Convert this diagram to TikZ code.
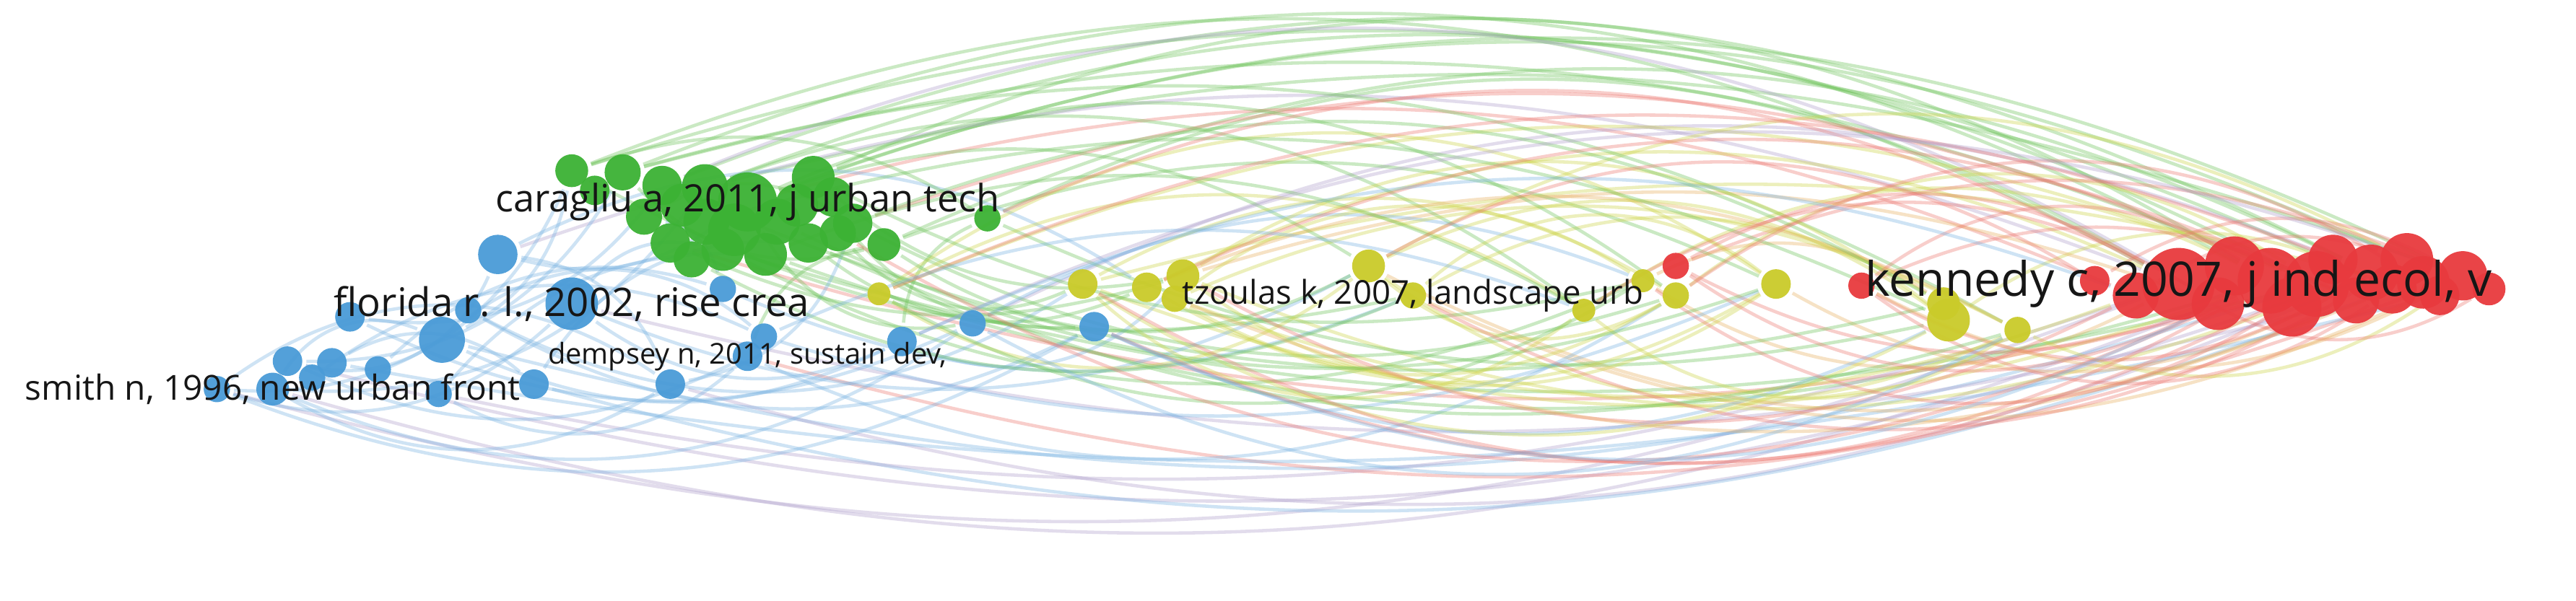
\documentclass[tikz,border=0pt]{standalone}
\usepackage{fontspec}
\setmainfont{Open Sans}
\pgfdeclarelayer{bgl}
\pgfdeclarelayer{edges}
\pgfsetlayers{bgl,edges,main}
\definecolor{nblue}{RGB}{74,155,215}
\definecolor{ngreen}{RGB}{60,178,52}
\definecolor{nyellow}{RGB}{202,203,42}
\definecolor{nred}{RGB}{232,58,62}
\definecolor{eblue}{RGB}{120,178,225}
\definecolor{egreen}{RGB}{110,195,90}
\definecolor{eyellow}{RGB}{205,212,70}
\definecolor{eorange}{RGB}{232,175,95}
\definecolor{ered}{RGB}{236,120,112}
\definecolor{epurple}{RGB}{175,160,205}
\definecolor{txt}{RGB}{22,22,22}
\tikzset{
  vnode/.style={circle, inner sep=0pt, draw=none, fill opacity=0.95},
  bN/.style={vnode, fill=nblue},
  gN/.style={vnode, fill=ngreen},
  yN/.style={vnode, fill=nyellow},
  rN/.style={vnode, fill=nred},
  edge/.style={line width=0.16pt, draw opacity=0.36},
  bE/.style={edge, draw=eblue},
  gE/.style={edge, draw=egreen},
  yE/.style={edge, draw=eyellow},
  oE/.style={edge, draw=eorange},
  rE/.style={edge, draw=ered},
  pE/.style={edge, draw=epurple},
  lbl/.style={inner sep=0pt, text=txt},
}
\begin{document}
\begin{tikzpicture}[x=0.08pt,y=0.08pt]
\useasboundingbox (0,0) rectangle (1568,366);
\begin{pgfonlayer}{bgl}
\fill[white] (0,0) rectangle (1568,366);
\end{pgfonlayer}
% blue cluster
\foreach \n/\x/\y/\r in {b1/303/155/12, b2/348/185/16, b3/269/207/14, b4/213/193/9, b5/285/189/8,
  b6/175/220/9, b7/202/221/9, b8/132/237/8, b9/166/237/10, b10/267/240/8, b11/325/234/9,
  b12/408/234/9, b13/440/176/8, b14/455/217/9, b15/465/205/8, b16/549/208/9, b17/592/197/8,
  b18/666/199/9, b19/190/230/8, b20/230/225/8}
  \node[bN, minimum size={0.16*\r pt}] (\n) at (\x,{366-\y}) {};
% green cluster
\foreach \n/\x/\y/\r in {g1/348/104/10, g23/362/116/9, g2/379/105/11, g3/403/113/12, g4/429/114/14,
  g6/495/108/13, g7/519/136/12, g8/538/149/10, g9/601/133/8, g10/408/148/12, g11/421/158/11,
  g12/440/152/13, g13/466/155/13, g14/492/148/12, g15/510/142/11, g16/392/132/11,
  g20/415/125/13, g21/485/125/13, g22/507/120/12, g19/447/140/16,
  g17/473/135/14, g18/430/135/14, g5/455/123/18}
  \node[gN, minimum size={0.16*\r pt}] (\n) at (\x,{366-\y}) {};
% yellow cluster
\foreach \n/\x/\y/\r in {y1/535/179/7, y2/659/173/9, y3/698/175/9, y4/720/168/10, y5/715/182/8,
  y6/833/162/10, y7/860/180/8, y8/964/189/7, y9/1000/171/7, y10/1020/180/8, y11/1081/173/9,
  y13/1183/185/10, y12/1186/195/13, y14/1228/201/8}
  \node[yN, minimum size={0.16*\r pt}] (\n) at (\x,{366-\y}) {};
% red cluster
\foreach \n/\x/\y/\r in {r1/1020/162/8, r2/1133/174/8, r3/1275/171/9, r15/1300/180/14,
  r14/1350/185/16, r17/1360/162/18, r16/1395/187/18, r5/1382/171/20, r6/1410/173/20,
  r18/1420/158/15, r11/1434/183/14, r7/1443/166/17,
  r13/1456/176/15, r8/1465/158/16, r19/1475/172/16, r12/1485/180/12, r9/1499/168/15,
  r10/1515/176/10, r4/1326/173/22}
  \node[rN, minimum size={0.16*\r pt}] (\n) at (\x,{366-\y}) {};
\begin{pgfonlayer}{edges}
\foreach \a/\b/\s/\t in {
  g1/r4/gE/25, g2/r5/gE/25, g3/r7/gE/24, g4/r6/gE/24, g5/r8/gE/22, g6/r9/gE/22,
  g1/r13/gE/21, g2/r11/gE/19, g9/r4/gE/28, g6/r5/gE/28, g8/r7/gE/25, g5/r15/rE/19,
  g7/r6/rE/21, g4/r9/gE/17, g3/r14/pE/27, g12/r6/gE/-15, g13/r5/gE/-18, g10/r7/rE/-16,
  b8/r4/pE/-18, b9/r5/pE/-19, b6/r7/pE/-17, b3/r6/bE/-16, b12/r8/pE/-20, b11/r13/bE/-18,
  b10/r4/pE/-15, b14/r9/rE/-18, b2/r11/pE/-14, b7/r12/bE/-12, b1/r4/pE/20, b17/r7/pE/24,
  y1/r6/yE/22, y2/r5/yE/-20, y3/r4/yE/25, y4/r7/yE/-22, y6/r8/yE/28, y6/r11/oE/-25,
  y7/r9/oE/-25, y8/r5/yE/30, y9/r4/oE/-30, y10/r6/yE/35, y11/r7/oE/-30, y12/r13/yE/30,
  y14/r9/yE/-30, r1/r5/rE/-25, r1/r9/rE/22, r2/r7/rE/-30, r2/r11/rE/25, y5/r15/yE/-20,
  y4/r14/oE/18, y2/r12/yE/15,
  g5/y6/gE/25, g6/y4/gE/-25, g7/y10/gE/-22, g8/y11/gE/22, g9/y12/gE/-18, g4/y8/gE/28,
  g12/y9/gE/-25, g14/y3/gE/-30, g1/y7/gE/-20, g2/y14/gE/22, g15/y2/gE/-35, g3/y13/gE/-18,
  b2/y6/bE/-25, b13/y7/bE/-22, b15/y11/bE/-20, b16/y4/bE/-35, b17/y9/bE/25, b18/y12/bE/-25,
  b5/y2/bE/-30, b1/y3/bE/30, b14/y10/bE/-28,
  b1/g5/bE/-25, b2/g12/bE/30, b3/g1/bE/-25, b4/g3/bE/-30, b6/g2/bE/-30, b9/g4/bE/-28,
  b8/g1/bE/-35, b12/g7/bE/-30, b14/g8/gE/30, b16/g9/gE/30, b17/g5/gE/35, b18/g6/gE/30,
  b10/g13/bE/25, b11/g14/bE/30, b13/g16/bE/-30,
  b8/b2/bE/-30, b9/b12/bE/-30, b6/b14/bE/-25, b7/b11/bE/35, b3/b16/bE/-25, b4/b17/bE/-25,
  b1/b12/bE/30, b8/b18/bE/-25, b9/b17/bE/-28, b19/b15/bE/30, b20/b13/bE/30, b10/b14/bE/-35,
  b2/b16/bE/-30, b5/b18/bE/-28, b6/b1/bE/-40, b9/b3/bE/40, b8/b12/bE/35, b3/b15/bE/40,
  g1/g9/gE/25, g2/g8/gE/-30, g16/g7/gE/30,
  y1/y6/yE/-35, y2/y10/yE/30, y3/y11/yE/-30, y4/y12/yE/35, y6/y14/yE/-30, y5/y9/yE/35,
  y7/y13/yE/30, y2/y8/yE/-40, y1/y11/yE/35,
  r3/r9/rE/30, r4/r10/rE/-30, r15/r8/rE/25, r2/r13/rE/-35,
  y2/y12/yE/-30, y3/y14/oE/25, y4/y11/yE/-35, y6/y12/yE/30, y6/y10/yE/-35, y7/y11/yE/40,
  y8/y14/yE/-35, y9/y13/oE/30, y1/y8/yE/30, y1/y9/gE/-30, y5/y10/yE/-30, y5/y14/yE/25,
  g5/y10/gE/30, g6/y9/gE/-20, g7/y13/gE/25, g8/y6/gE/-30, g10/y4/gE/-20, g11/y7/gE/-25,
  g13/y8/gE/25, g17/y11/gE/-22, g18/y12/gE/20, g14/y14/gE/-20,
  r1/r4/rE/30, r1/r14/rE/-30, r2/r5/rE/35, r2/r9/oE/-28, r3/y6/rE/-30, r15/y4/rE/28,
  r14/y8/rE/-32, r5/y2/rE/30, r11/y3/rE/-25, r13/y5/oE/22, r6/y9/rE/35, r7/y1/rE/-22,
  r8/y7/rE/30, r12/y10/rE/-35, r4/g9/rE/-26, r6/b18/rE/25, r9/b16/pE/-22, r5/g15/rE/28,
  b18/r14/bE/-25, b16/r15/bE/22, b17/y14/bE/-28, b15/y8/bE/22}
  \draw[\s] (\a) to[bend left=\t] (\b);
\end{pgfonlayer}
% labels
\node[lbl, font=\fontsize{1.84}{1.84}\selectfont] (lcar) at (g5) {caragliu a, 2011, j urban tech};
\node[lbl, font=\fontsize{1.92}{1.92}\selectfont] (lflo) at (b2) {florida r. l., 2002, rise crea};
\node[lbl, font=\fontsize{1.68}{1.68}\selectfont] (lsmi) at (b9) {smith n, 1996, new urban front};
\node[lbl, font=\fontsize{1.4}{1.4}\selectfont] (ldem) at (b14) {dempsey n, 2011, sustain dev,};
\node[lbl, font=\fontsize{1.6}{1.6}\selectfont] (ltzo) at (y7) {tzoulas k, 2007, landscape urb};
\node[lbl, font=\fontsize{2.32}{2.32}\selectfont] (lken) at (r4) {kennedy c, 2007, j ind ecol, v};
\end{tikzpicture}
\end{document}
